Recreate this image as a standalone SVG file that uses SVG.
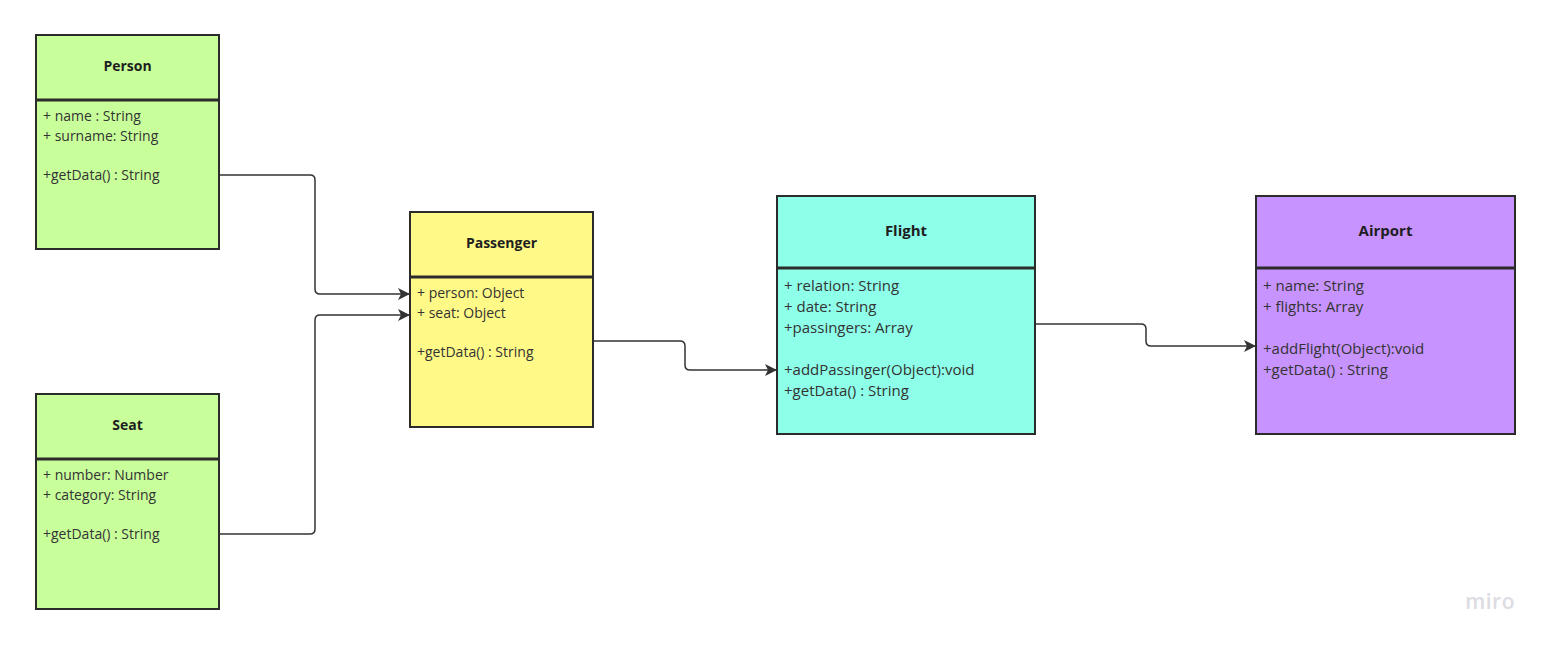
<svg xmlns="http://www.w3.org/2000/svg" width="1550" height="645" viewBox="0 0 1550 645">
<style>
.box{stroke:#2b2b2b;stroke-width:2}
.div{stroke:#2b2b2b;stroke-width:3}
.title{font-family:"Open Sans","Liberation Sans",sans-serif;font-weight:bold;font-size:14px;fill:#1e1e1e;text-anchor:middle}
.t{font-family:"Open Sans","Liberation Sans",sans-serif;font-size:14px;fill:#333}
.tl{font-family:"Open Sans","Liberation Sans",sans-serif;font-size:15px;fill:#333}
.conn{fill:none;stroke:#333;stroke-width:1.5}
</style>
<defs>
<marker id="arr" viewBox="0 0 10 10" refX="10" refY="5" markerWidth="12" markerHeight="12" markerUnits="userSpaceOnUse" orient="auto">
<path d="M0,0 L10,5 L0,10 L2.5,5 Z" fill="#333"/>
</marker>
</defs>
<rect width="1550" height="645" fill="#fff"/>
<g id="connectors">
<path class="conn" marker-end="url(#arr)" d="M219,175 H310 Q315,175 315,180 V289 Q315,294 320,294 H410"/>
<path class="conn" marker-end="url(#arr)" d="M219,534 H310 Q315,534 315,529 V320 Q315,315 320,315 H410"/>
<path class="conn" marker-end="url(#arr)" d="M593,341 H680 Q685,341 685,346 V365 Q685,370 690,370 H777"/>
<path class="conn" marker-end="url(#arr)" d="M1035,324 H1141 Q1146,324 1146,329 V341 Q1146,346 1151,346 H1256"/>
</g>
<g id="person">
<rect class="box" x="36" y="35" width="183" height="214" fill="#c9ff9b"/>
<line class="div" x1="36" y1="100" x2="219" y2="100"/>
<text class="title" x="127.5" y="71">Person</text>
<text class="t" x="43" y="121">+ name : String</text>
<text class="t" x="43" y="141">+ surname: String</text>
<text class="t" x="43" y="180">+getData() : String</text>
</g>
<g id="seat">
<rect class="box" x="36" y="394" width="183" height="215" fill="#c9ff9b"/>
<line class="div" x1="36" y1="459" x2="219" y2="459"/>
<text class="title" x="127.5" y="430">Seat</text>
<text class="t" x="43" y="480">+ number: Number</text>
<text class="t" x="43" y="500">+ category: String</text>
<text class="t" x="43" y="539">+getData() : String</text>
</g>
<g id="passenger">
<rect class="box" x="410" y="212" width="183" height="215" fill="#fffa87"/>
<line class="div" x1="410" y1="277" x2="593" y2="277"/>
<text class="title" x="501.5" y="248">Passenger</text>
<text class="t" x="417" y="298">+ person: Object</text>
<text class="t" x="417" y="318">+ seat: Object</text>
<text class="t" x="417" y="357">+getData() : String</text>
</g>
<g id="flight">
<rect class="box" x="777" y="196" width="258" height="238" fill="#8effe9"/>
<line class="div" x1="777" y1="268" x2="1035" y2="268"/>
<text class="title" x="906" y="236" style="font-size:15px">Flight</text>
<text class="tl" x="784" y="291">+ relation: String</text>
<text class="tl" x="784" y="312">+ date: String</text>
<text class="tl" x="784" y="333">+passingers: Array</text>
<text class="tl" x="784" y="375">+addPassinger(Object):void</text>
<text class="tl" x="784" y="396">+getData() : String</text>
</g>
<g id="airport">
<rect class="box" x="1256" y="196" width="259" height="238" fill="#c793ff"/>
<line class="div" x1="1256" y1="268" x2="1515" y2="268"/>
<text class="title" x="1385.5" y="236" style="font-size:15px">Airport</text>
<text class="tl" x="1263" y="291">+ name: String</text>
<text class="tl" x="1263" y="312">+ flights: Array</text>
<text class="tl" x="1263" y="354">+addFlight(Object):void</text>
<text class="tl" x="1263" y="375">+getData() : String</text>
</g>
<text x="1515" y="609" text-anchor="end" style="font-family:'Open Sans','Liberation Sans',sans-serif;font-size:21px;font-weight:600;fill:#dcdce2;letter-spacing:0.5px">miro</text>
</svg>
